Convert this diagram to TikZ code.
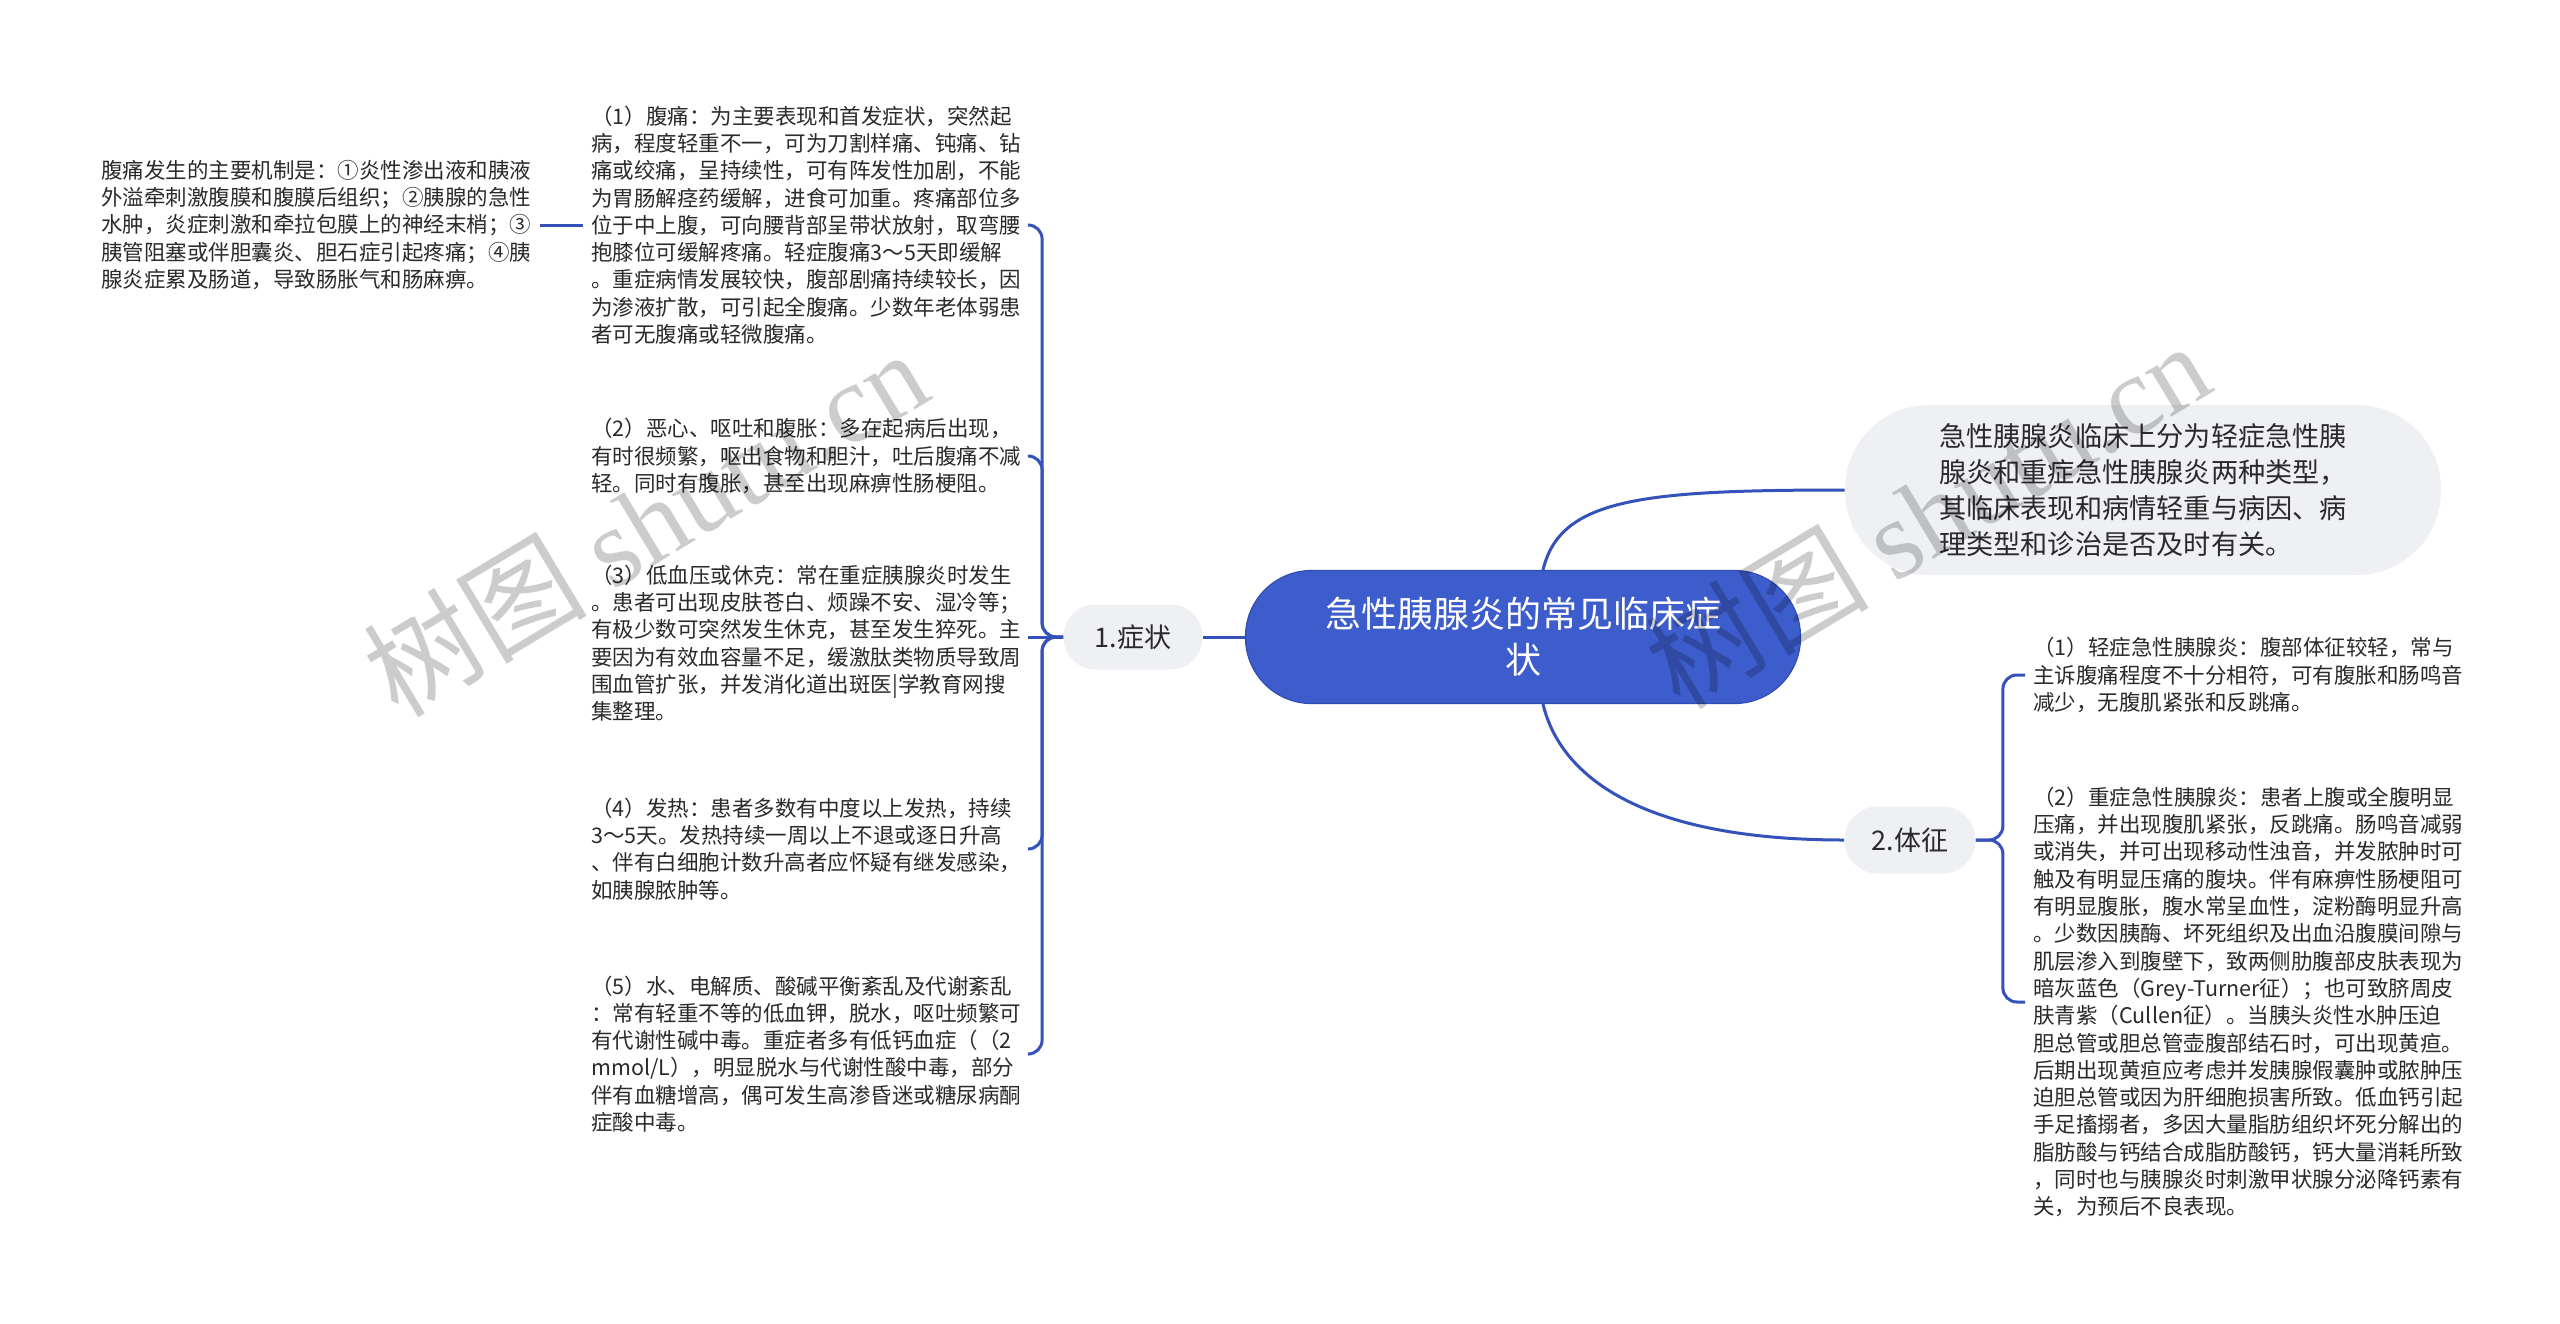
\documentclass[tikz,border=0pt]{standalone}
\usepackage{fontspec}
\setmainfont{Noto Sans CJK SC}
\newfontfamily\wmserif{Liberation Serif}
\definecolor{rootblue}{HTML}{3D5DCC}
\definecolor{rootedge}{HTML}{2F4DB3}
\definecolor{subgray}{HTML}{EEF0F4}
\definecolor{linec}{HTML}{3452BA}
\definecolor{textc}{HTML}{2A2A2A}
\begin{document}
\begin{tikzpicture}[x=0.5pt,y=-0.5pt,
  root/.style={fill=rootblue, draw=rootedge, line width=0.6pt, rounded corners=33pt,
    minimum width=277.5pt, minimum height=66.5pt, text=white, align=center, inner sep=0pt,
    font=\fontsize{18}{23}\selectfont},
  sub/.style={fill=subgray, inner sep=0pt, text=textc, font=\fontsize{13.5}{17}\selectfont},
  leaf/.style={text width=214pt, align=left, inner xsep=4pt, inner ysep=2pt, anchor=west,
    text=textc, font=\fontsize{10.75}{13.65}\selectfont},
  conn/.style={draw=linec, line width=1.5pt, rounded corners=7pt},
  wm/.style={text=black, opacity=0.2, font=\fontsize{56}{60}\selectfont, inner sep=0pt}]
\useasboundingbox[fill=white] (0,0) rectangle (2560,1323);

% main nodes
\node[root] (c) at (1523,637) {急性胰腺炎的常见临床症\\状};
\node[sub, minimum width=298pt, minimum height=85pt, rounded corners=42pt, align=left,
  font=\fontsize{13.6}{18}\selectfont] (topR) at (2143,490)
  {急性胰腺炎临床上分为轻症急性胰\\腺炎和重症急性胰腺炎两种类型，\\其临床表现和病情轻重与病因、病\\理类型和诊治是否及时有关。};
\node[sub, minimum width=69.5pt, minimum height=32.5pt, rounded corners=16pt] (n1) at (1133,637) {1.症状};
\node[sub, minimum width=65.5pt, minimum height=33.5pt, rounded corners=16.5pt] (n2) at (1910,840) {2.体征};

% left leaves
\node[leaf, text width=215pt] (m) at (93,225)
  {腹痛发生的主要机制是：①炎性渗出液和胰液\\外溢牵刺激腹膜和腹膜后组织；②胰腺的急性\\水肿，炎症刺激和牵拉包膜上的神经末梢；③\\胰管阻塞或伴胆囊炎、胆石症引起疼痛；④胰\\腺炎症累及肠道，导致肠胀气和肠麻痹。};
\node[leaf] (l1) at (583,225)
  {（1）腹痛：为主要表现和首发症状，突然起\\病，程度轻重不一，可为刀割样痛、钝痛、钻\\痛或绞痛，呈持续性，可有阵发性加剧，不能\\为胃肠解痉药缓解，进食可加重。疼痛部位多\\位于中上腹，可向腰背部呈带状放射，取弯腰\\抱膝位可缓解疼痛。轻症腹痛3～5天即缓解\\。重症病情发展较快，腹部剧痛持续较长，因\\为渗液扩散，可引起全腹痛。少数年老体弱患\\者可无腹痛或轻微腹痛。};
\node[leaf] (l2) at (583,456)
  {（2）恶心、呕吐和腹胀：多在起病后出现，\\有时很频繁，呕出食物和胆汁，吐后腹痛不减\\轻。同时有腹胀，甚至出现麻痹性肠梗阻。};
\node[leaf] (l3) at (583,643)
  {（3）低血压或休克：常在重症胰腺炎时发生\\。患者可出现皮肤苍白、烦躁不安、湿冷等；\\有极少数可突然发生休克，甚至发生猝死。主\\要因为有效血容量不足，缓激肽类物质导致周\\围血管扩张，并发消化道出斑医|学教育网搜\\集整理。};
\node[leaf] (l4) at (583,849)
  {（4）发热：患者多数有中度以上发热，持续\\3～5天。发热持续一周以上不退或逐日升高\\、伴有白细胞计数升高者应怀疑有继发感染，\\如胰腺脓肿等。};
\node[leaf] (l5) at (583,1054)
  {（5）水、电解质、酸碱平衡紊乱及代谢紊乱\\：常有轻重不等的低血钾，脱水，呕吐频繁可\\有代谢性碱中毒。重症者多有低钙血症（（2\\mmol/L），明显脱水与代谢性酸中毒，部分\\伴有血糖增高，偶可发生高渗昏迷或糖尿病酮\\症酸中毒。};

% right leaves
\node[leaf, text width=215pt] (r1) at (2025,675)
  {（1）轻症急性胰腺炎：腹部体征较轻，常与\\主诉腹痛程度不十分相符，可有腹胀和肠鸣音\\减少，无腹肌紧张和反跳痛。};
\node[leaf, text width=215pt] (r2) at (2025,1002)
  {（2）重症急性胰腺炎：患者上腹或全腹明显\\压痛，并出现腹肌紧张，反跳痛。肠鸣音减弱\\或消失，并可出现移动性浊音，并发脓肿时可\\触及有明显压痛的腹块。伴有麻痹性肠梗阻可\\有明显腹胀，腹水常呈血性，淀粉酶明显升高\\。少数因胰酶、坏死组织及出血沿腹膜间隙与\\肌层渗入到腹壁下，致两侧肋腹部皮肤表现为\\暗灰蓝色（Grey-Turner征）；也可致脐周皮\\肤青紫（Cullen征）。当胰头炎性水肿压迫\\胆总管或胆总管壶腹部结石时，可出现黄疸。\\后期出现黄疸应考虑并发胰腺假囊肿或脓肿压\\迫胆总管或因为肝细胞损害所致。低血钙引起\\手足搐搦者，多因大量脂肪组织坏死分解出的\\脂肪酸与钙结合成脂肪酸钙，钙大量消耗所致\\，同时也与胰腺炎时刺激甲状腺分泌降钙素有\\关，为预后不良表现。};

% connectors
\coordinate (lb) at ([xshift=-10.5pt]n1.west);
\coordinate (rb) at ([xshift=13.5pt]n2.east);
\draw[conn] (c.west) -- (n1.east);
\draw[conn] (n1.west) -- (lb) -- (lb |- l1.east) -- (l1.east);
\draw[conn] (n1.west) -- (lb) -- (lb |- l2.east) -- (l2.east);
\draw[conn] (n1.west) -- (l3.east |- n1.west);
\draw[conn] (n1.west) -- (lb) -- (lb |- l4.east) -- (l4.east);
\draw[conn] (n1.west) -- (lb) -- (lb |- l5.east) -- (l5.east);
\draw[conn] (m.east) -- (l1.west);
\draw[conn] ([xshift=10pt]c.north) .. controls +(17,-71) and +(-205,0) .. (topR.west);
\draw[conn] ([xshift=10pt]c.south) .. controls +(17,71) and +(-205,0) .. (n2.west);
\draw[conn] (n2.east) -- (rb) -- (rb |- r1.west) -- (r1.west);
\draw[conn] (n2.east) -- (rb) -- (rb |- r2.west) -- (r2.west);

% watermarks
\node[wm, rotate=31] (w1) at (645,522) {树图 {\wmserif shutu.cn}};
\node[wm, rotate=31] (w2) at (1927,514) {树图 {\wmserif shutu.cn}};
\end{tikzpicture}
\end{document}
